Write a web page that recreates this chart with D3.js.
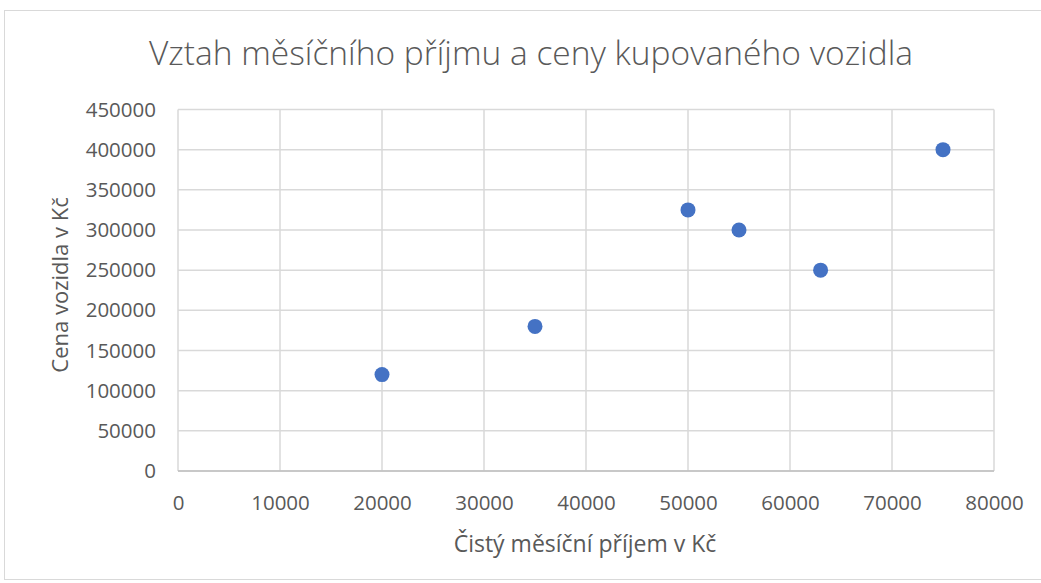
<!DOCTYPE html>
<html>
<head>
<meta charset="utf-8">
<script src="https://cdn.jsdelivr.net/npm/d3@7"></script>
<style>
  body { margin: 0; background: #fff; }
  text { font-family: "Open Sans", "Noto Sans", sans-serif; fill: #595959; }
  .grid line { stroke: #d9d9d9; stroke-width: 1.5px; }
  .axis path, .axis line { display: none; }
  .axis text { font-size: 20.5px; fill: #595959; }
</style>
</head>
<body>
<div id="canvas"></div>
<script>
// data
var incomes = [20000, 35000, 50000, 55000, 63000, 75000];
var prices = [120000, 180000, 325000, 300000, 250000, 400000];
var xTicks = [0, 10000, 20000, 30000, 40000, 50000, 60000, 70000, 80000];
var yTicks = [0, 50000, 100000, 150000, 200000, 250000, 300000, 350000, 400000, 450000];

var W = 1041, H = 583;
var m = {t:109.5, r:47, b:112, l:178},
    w = W - m.l - m.r,
    h = H - m.t - m.b;

var svg = d3.select('#canvas').append('svg')
    .attr('width', W)
    .attr('height', H);

// chart frame
svg.append('rect')
    .attr('x', 4.5).attr('y', 10.5)
    .attr('width', W + 10).attr('height', H - 14)
    .attr('fill', 'none')
    .attr('stroke', '#d9d9d9');

var plot = svg.append('g')
    .attr('transform', 'translate(' + m.l + ',' + m.t + ')');

var scaleX = d3.scaleLinear().domain([0, 80000]).range([0, w]);
var scaleY = d3.scaleLinear().domain([0, 450000]).range([h, 0]);

// gridlines
plot.append('g').attr('class', 'grid')
    .selectAll('line').data(yTicks).enter().append('line')
    .attr('x1', 0).attr('x2', w)
    .attr('y1', function(d){ return scaleY(d); })
    .attr('y2', function(d){ return scaleY(d); });
plot.append('g').attr('class', 'grid')
    .selectAll('line').data(xTicks).enter().append('line')
    .attr('y1', 0).attr('y2', h)
    .attr('x1', function(d){ return scaleX(d); })
    .attr('x2', function(d){ return scaleX(d); });

// axis baseline
plot.append('line')
    .attr('x1', 0).attr('x2', w)
    .attr('y1', h).attr('y2', h)
    .attr('stroke', '#bfbfbf').attr('stroke-width', 1.5);

// axes
var axisX = d3.axisBottom(scaleX).tickValues(xTicks).tickFormat(d3.format('d')).tickSize(0).tickPadding(24);
var axisY = d3.axisLeft(scaleY).tickValues(yTicks).tickFormat(d3.format('d')).tickSize(0).tickPadding(22);
plot.append('g').attr('class', 'axis axis-x')
    .attr('transform', 'translate(0,' + h + ')')
    .call(axisX);
plot.append('g').attr('class', 'axis axis-y').call(axisY);
plot.selectAll('.axis text').style('font-family', '"Open Sans", "Noto Sans", sans-serif');

// points
plot.selectAll('.dot').data(incomes).enter().append('circle')
    .attr('class', 'dot')
    .attr('cx', function(d){ return scaleX(d); })
    .attr('cy', function(d, i){ return scaleY(prices[i]); })
    .attr('r', 7.5)
    .attr('fill', '#4472c4');

// titles
svg.append('text')
    .attr('x', 531).attr('y', 65)
    .attr('text-anchor', 'middle')
    .style('font-size', '33.5px')
    .style('font-weight', 300)
    .text('Vztah měsíčního příjmu a ceny kupovaného vozidla');

svg.append('text')
    .attr('x', 585).attr('y', 552)
    .attr('text-anchor', 'middle')
    .style('font-size', '23px')
    .text('Čistý měsíční příjem v Kč');

svg.append('text')
    .attr('transform', 'translate(68,285) rotate(-90)')
    .attr('text-anchor', 'middle')
    .style('font-size', '22px')
    .text('Cena vozidla v Kč');
</script>
</body>
</html>
